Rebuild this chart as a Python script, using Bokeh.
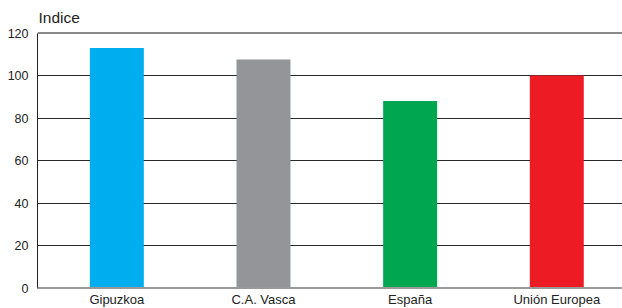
from bokeh.plotting import figure
from bokeh.models import ColumnDataSource, FixedTicker, Span, Range1d, Label
from bokeh.embed import file_html
from bokeh.resources import INLINE

categories = ["Gipuzkoa", "C.A. Vasca", "España", "Unión Europea"]
values = [113, 107.5, 88, 100]
colors = ["#00AEEF", "#939598", "#00A650", "#ED1C24"]
y_ticks = [0, 20, 40, 60, 80, 100, 120]
axis_title = "Indice"

idx = list(range(len(categories)))
source = ColumnDataSource(dict(x=idx, top=values, color=colors, name=categories))

x_start = -0.541
x_end = len(categories) - 1 + 0.448
px_per_unit = 2.125
y_start = y_ticks[0] - 20.5 / px_per_unit
y_end = y_ticks[-1] + 32.5 / px_per_unit

p = figure(width=622, height=308, output_backend="svg", toolbar_location=None,
           x_range=Range1d(x_start, x_end),
           y_range=Range1d(y_start, y_end),
           min_border_left=37, min_border_right=0, min_border_top=0, min_border_bottom=0)

p.outline_line_color = None
p.background_fill_color = "white"
p.border_fill_color = "white"

p.vbar(x="x", top="top", bottom=0, width=0.368, color="color", line_color=None, source=source)

p.xgrid.visible = False
p.ygrid.ticker = FixedTicker(ticks=y_ticks[1:-1])
p.ygrid.grid_line_color = "#2a2a2a"
p.ygrid.grid_line_width = 1
p.ygrid.level = "underlay"

top_span = Span(location=y_ticks[-1], dimension="width", line_color="#888888", line_width=2)
bot_span = Span(location=y_ticks[0], dimension="width", line_color="#999999", line_width=2)
p.add_layout(top_span)
p.add_layout(bot_span)

p.yaxis.ticker = FixedTicker(ticks=y_ticks)
p.yaxis.bounds = (y_ticks[0], y_ticks[-1])
p.yaxis.major_tick_line_color = None
p.yaxis.minor_tick_line_color = None
p.yaxis.major_tick_out = 0
p.yaxis.major_tick_in = 0
p.yaxis.minor_tick_out = 0
p.yaxis.axis_line_color = "#222222"
p.yaxis.major_label_text_font = "Liberation Sans"
p.yaxis.major_label_text_font_size = "12.5px"
p.yaxis.major_label_text_color = "#222222"
p.yaxis.major_label_standoff = 9

p.xaxis.visible = False

for i, c in zip(idx, categories):
    p.add_layout(Label(x=i, y=y_ticks[0], y_offset=-11.5, text=c, text_align="center",
                       text_baseline="alphabetic", text_font="Liberation Sans",
                       text_font_size="13px", text_color="#222222"))

p.add_layout(Label(x=x_start, y=y_ticks[-1], x_offset=1, y_offset=16, text=axis_title,
                   text_align="left", text_baseline="alphabetic", text_font="Liberation Sans",
                   text_font_size="15.5px", text_color="#222222"))

open("out.html", "w").write(file_html(p, INLINE))
